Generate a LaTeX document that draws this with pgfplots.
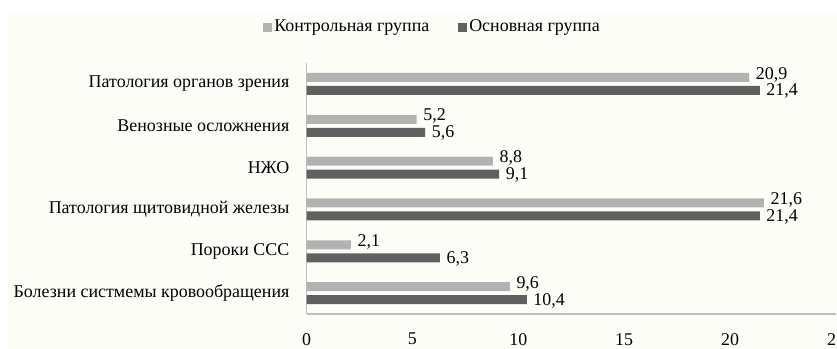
\documentclass[border=0pt]{standalone}
\usepackage{pgfplots}
\pgfplotsset{compat=1.18}
\usepackage{fontspec}
\setmainfont{Liberation Serif}

\definecolor{bgcream}{RGB}{253,253,247}
\definecolor{ctrlgray}{RGB}{178,178,178}
\definecolor{maingray}{RGB}{96,96,96}
\definecolor{axisgray}{RGB}{191,191,191}

\begin{document}
\fontsize{18}{21}\selectfont
\begin{tikzpicture}
\useasboundingbox (0,0) rectangle (837bp,349bp);
\fill[bgcream] (7bp,0) rectangle (837bp,337bp);
\begin{axis}[
  at={(306.5bp,35bp)}, anchor=south west,
  scale only axis, width=529.5bp, height=251bp,
  xbar, bar width=9bp,
  xmin=0, xmax=25, ymin=-0.5, ymax=5.5,
  xtick={0,5,...,25},
  ytick={0,...,5},
  yticklabels={
    Болезни систмемы кровообращения,
    Пороки ССС,
    Патология щитовидной железы,
    НЖО,
    Венозные осложнения,
    Патология органов зрения},
  axis x line*=bottom, axis y line*=left,
  axis line style={axisgray, line width=1.5bp, -},
  major tick length=0pt,
  xticklabel style={inner sep=0pt, yshift=-19bp},
  yticklabel style={xshift=-11bp},
  /pgf/number format/assume math mode=true,
  /pgf/number format/use comma,
  nodes near coords={\pgfmathprintnumber[fixed,fixed zerofill,precision=1]{\pgfplotspointmeta}},
  nodes near coords align=horizontal,
  every node near coord/.append style={anchor=west, inner sep=0.5bp, xshift=6bp},
  legend columns=2,
  legend style={at={(0.238,1.143)}, anchor=center, draw=none, fill=none,
    /tikz/every even column/.append style={column sep=27bp},
    inner sep=0pt},
  legend image code/.code={\fill[#1] (0bp,-4.5bp) rectangle (9bp,4.5bp);},
]
\addplot[fill=ctrlgray, draw=none, bar shift=6.5bp,
  every node near coord/.append style={yshift=3bp}]
  coordinates {(9.6,0) (2.1,1) (21.6,2) (8.8,3) (5.2,4) (20.9,5)};
\addlegendentry{Контрольная группа}
\addplot[fill=maingray, draw=none, bar shift=-6.5bp,
  every node near coord/.append style={yshift=-1bp}]
  coordinates {(10.4,0) (6.3,1) (21.4,2) (9.1,3) (5.6,4) (21.4,5)};
\addlegendentry{Основная группа}
\end{axis}
\end{tikzpicture}
\end{document}
